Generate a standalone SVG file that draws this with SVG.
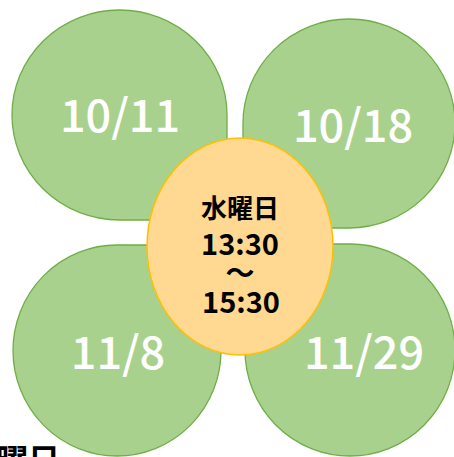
<svg xmlns="http://www.w3.org/2000/svg" width="454" height="457" viewBox="0 0 454 457">
<style>
.petal{fill:#A9D18E;stroke:#70AD47;stroke-width:1.3}
.date{font-family:"Noto Sans CJK JP","Noto Sans",sans-serif;font-size:45px;font-weight:500;fill:#FFFFFF;text-anchor:middle}
.center{fill:#FFD891;stroke:#FFC000;stroke-width:1.5}
.ctext{font-family:"Noto Sans CJK JP",sans-serif;font-weight:bold;fill:#000000;text-anchor:middle}
</style>
<rect width="454" height="457" fill="#FFFFFF"/>
<g id="petal-1011">
<path class="petal" d="M12,115 A107.5,105 0 0 1 119.5,10 A107.5,105 0 0 1 227,115 L227,220 L119.5,220 A107.5,105 0 0 1 12,115 Z"/>
<text class="date" x="120" y="132">10/11</text>
</g>
<g id="petal-1018">
<path class="petal" d="M243,228 L243,123.5 A106,104.5 0 0 1 349,19 A106,104.5 0 0 1 455,123.5 A106,104.5 0 0 1 349,228 Z"/>
<text class="date" x="353" y="142">10/18</text>
</g>
<g id="petal-118">
<path class="petal" d="M221,245 L221,350.5 A104,105.5 0 0 1 117,456 A104,105.5 0 0 1 13,350.5 A104,105.5 0 0 1 117,245 Z"/>
<text class="date" x="118" y="369">11/8</text>
</g>
<g id="petal-1129">
<path class="petal" d="M245,244 L350,244 A105,106 0 0 1 455,350 A105,106 0 0 1 350,456 A105,106 0 0 1 245,350 Z"/>
<text class="date" x="364" y="369">11/29</text>
</g>
<g id="center">
<ellipse class="center" cx="240" cy="246.5" rx="93" ry="108.5"/>
<text class="ctext" x="240" y="218" font-size="26">水曜日</text>
<text class="ctext" x="240" y="255" font-size="29">13:30</text>
<text class="ctext" x="240" y="284" font-size="29">～</text>
<text class="ctext" x="241" y="313" font-size="29">15:30</text>
</g>
<g id="footer-text">
<text class="ctext" x="-4" y="472" font-size="32" style="text-anchor:start">曜日</text>
</g>
</svg>
